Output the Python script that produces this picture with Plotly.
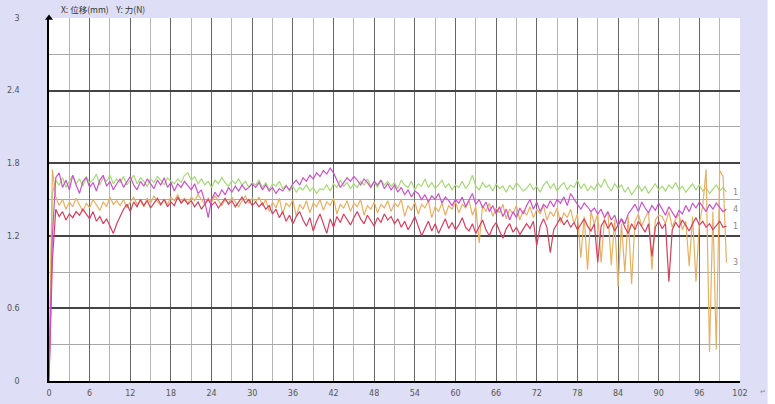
import plotly.graph_objects as go

# Displacement samples (mm)
x_start = 0.0
x_step = 0.5
n_pts = 201
displacement = [x_start + i * x_step for i in range(n_pts)]

# Force curves (N)
curve1_green = [
    0.05, 1.55, 1.66, 1.62, 1.68, 1.60, 1.65, 1.70, 1.63, 1.67, 1.61, 1.69, 1.64, 1.66, 1.71, 1.62, 1.68, 1.65, 1.70, 1.63, 1.67,
    1.64, 1.69, 1.62, 1.66, 1.70, 1.63, 1.68, 1.65, 1.61, 1.67, 1.64, 1.69, 1.66, 1.62, 1.68, 1.65, 1.63, 1.67, 1.64, 1.70,
    1.72, 1.66, 1.69, 1.63, 1.67, 1.62, 1.65, 1.60, 1.66, 1.63, 1.68, 1.64, 1.61, 1.66, 1.63, 1.67, 1.62, 1.65, 1.60, 1.64,
    1.62, 1.66, 1.60, 1.64, 1.58, 1.63, 1.61, 1.65, 1.59, 1.62, 1.57, 1.61, 1.56, 1.60, 1.58, 1.62, 1.57, 1.60, 1.55, 1.59,
    1.58, 1.62, 1.57, 1.63, 1.60, 1.66, 1.61, 1.64, 1.59, 1.63, 1.60, 1.65, 1.62, 1.67, 1.61, 1.64, 1.60, 1.66, 1.62, 1.65,
    1.61, 1.64, 1.59, 1.66, 1.62, 1.60, 1.65, 1.58, 1.63, 1.61, 1.67, 1.60, 1.64, 1.59, 1.62, 1.66, 1.60, 1.63, 1.58, 1.62,
    1.60, 1.65, 1.59, 1.63, 1.70, 1.61, 1.58, 1.64, 1.60, 1.62, 1.57, 1.63, 1.59, 1.61, 1.56, 1.62, 1.58, 1.64, 1.60, 1.57,
    1.59, 1.63, 1.58, 1.61, 1.56, 1.62, 1.65, 1.59, 1.63, 1.57, 1.61, 1.64, 1.58, 1.62, 1.60, 1.66, 1.59, 1.63, 1.57, 1.61,
    1.58, 1.64, 1.60, 1.67, 1.61, 1.57, 1.63, 1.59, 1.62, 1.56, 1.60, 1.54, 1.58, 1.62, 1.57, 1.61, 1.55, 1.59, 1.63, 1.58,
    1.61, 1.57, 1.62, 1.59, 1.64, 1.58, 1.61, 1.56, 1.60, 1.63, 1.58, 1.62, 1.57, 1.60, 1.55, 1.59, 1.62, 1.57, 1.60, 1.56,
]
curve4_magenta = [
    0.02, 1.20, 1.68, 1.72, 1.60, 1.66, 1.58, 1.70, 1.62, 1.55, 1.65, 1.68, 1.60, 1.64, 1.57, 1.66, 1.70, 1.61, 1.65, 1.58, 1.63,
    1.67, 1.60, 1.64, 1.69, 1.62, 1.58, 1.65, 1.61, 1.67, 1.63, 1.59, 1.66, 1.62, 1.68, 1.60, 1.64, 1.57, 1.63, 1.60, 1.65,
    1.61, 1.58, 1.63, 1.55, 1.58, 1.48, 1.35, 1.50, 1.56, 1.52, 1.58, 1.54, 1.60, 1.56, 1.61, 1.57, 1.62, 1.58, 1.60, 1.63,
    1.60, 1.64, 1.58, 1.62, 1.57, 1.60, 1.55, 1.59, 1.57, 1.61, 1.58, 1.63, 1.66, 1.62, 1.68, 1.65, 1.70, 1.67, 1.72, 1.69,
    1.74, 1.71, 1.76, 1.72, 1.66, 1.60, 1.64, 1.68, 1.65, 1.69, 1.66, 1.62, 1.67, 1.64, 1.60, 1.65, 1.62, 1.66, 1.59, 1.63,
    1.58, 1.62, 1.56, 1.60, 1.54, 1.58, 1.52, 1.57, 1.55, 1.50, 1.54, 1.48, 1.53, 1.50, 1.55, 1.47, 1.52, 1.49, 1.45, 1.50,
    1.47, 1.52, 1.44, 1.49, 1.55, 1.46, 1.50, 1.43, 1.48, 1.40, 1.45, 1.38, 1.44, 1.36, 1.42, 1.33, 1.40, 1.35, 1.43, 1.38,
    1.45, 1.50, 1.42, 1.48, 1.40, 1.46, 1.43, 1.49, 1.44, 1.50, 1.47, 1.52, 1.45, 1.55, 1.50, 1.46, 1.42, 1.47, 1.44, 1.40,
    1.43, 1.38, 1.42, 1.35, 1.40, 1.33, 1.37, 1.28, 1.34, 1.30, 1.38, 1.42, 1.46, 1.40, 1.48, 1.43, 1.39, 1.45, 1.41, 1.47,
    1.42, 1.37, 1.44, 1.39, 1.35, 1.41, 1.38, 1.45, 1.40, 1.47, 1.43, 1.48, 1.44, 1.40, 1.46, 1.42, 1.47, 1.43, 1.40, 1.42,
]
curve1_red = [
    0.00, 1.00, 1.42, 1.36, 1.40, 1.33, 1.38, 1.35, 1.40, 1.37, 1.42, 1.38, 1.34, 1.40, 1.32, 1.36, 1.30, 1.34, 1.28, 1.22, 1.30,
    1.36, 1.42, 1.46, 1.40, 1.48, 1.44, 1.50, 1.45, 1.49, 1.43, 1.47, 1.51, 1.46, 1.50, 1.44, 1.48, 1.45, 1.52, 1.47, 1.50,
    1.46, 1.49, 1.44, 1.48, 1.42, 1.46, 1.50, 1.45, 1.48, 1.43, 1.47, 1.51, 1.46, 1.49, 1.44, 1.48, 1.52, 1.47, 1.50, 1.45,
    1.48, 1.44, 1.47, 1.42, 1.45, 1.38, 1.42, 1.35, 1.40, 1.32, 1.37, 1.30, 1.36, 1.40, 1.33, 1.28, 1.35, 1.24, 1.32, 1.38,
    1.30, 1.22, 1.34, 1.27, 1.36, 1.31, 1.38, 1.33, 1.29, 1.35, 1.40, 1.34, 1.30, 1.37, 1.32, 1.28, 1.35, 1.31, 1.38, 1.33,
    1.36, 1.30, 1.34, 1.27, 1.32, 1.25, 1.30, 1.36, 1.28, 1.20, 1.26, 1.32, 1.24, 1.30, 1.22, 1.28, 1.34, 1.26, 1.31, 1.25,
    1.29, 1.35, 1.27, 1.24, 1.30, 1.22, 1.28, 1.33, 1.25, 1.20, 1.27, 1.31, 1.24, 1.18, 1.26, 1.30, 1.23, 1.27, 1.21, 1.25,
    1.30, 1.26, 1.32, 1.12, 1.28, 1.34, 1.27, 1.06, 1.25, 1.30, 1.35, 1.29, 1.33, 1.27, 1.31, 1.25, 1.29, 1.34, 1.28, 1.24,
    1.30, 0.98, 1.28, 1.33, 1.26, 1.31, 1.24, 1.29, 1.34, 1.27, 1.22, 1.30, 1.25, 1.32, 1.28, 1.23, 1.30, 1.03, 1.27, 1.32,
    1.26, 1.30, 0.82, 1.25, 1.31, 1.27, 1.33, 1.28, 1.24, 1.30, 1.35, 1.29, 1.32, 1.27, 1.30, 1.25, 1.29, 1.32, 1.27, 1.28,
]
curve3_orange = [
    0.05, 1.75, 1.52, 1.45, 1.50, 1.42, 1.48, 1.44, 1.51, 1.46, 1.40, 1.47, 1.43, 1.50, 1.45, 1.41, 1.48, 1.44, 1.52, 1.46, 1.49,
    1.45, 1.50, 1.43, 1.48, 1.52, 1.46, 1.49, 1.44, 1.51, 1.47, 1.53, 1.48, 1.45, 1.50, 1.46, 1.52, 1.49, 1.54, 1.48, 1.51,
    1.47, 1.52, 1.49, 1.54, 1.50, 1.46, 1.51, 1.48, 1.53, 1.49, 1.45, 1.50, 1.47, 1.52, 1.48, 1.44, 1.49, 1.53, 1.47, 1.51,
    1.48, 1.52, 1.45, 1.50, 1.40, 1.48, 1.43, 1.51, 1.38, 1.47, 1.44, 1.50, 1.36, 1.46, 1.42, 1.49, 1.39, 1.47, 1.44, 1.50,
    1.41, 1.48, 1.45, 1.51, 1.38, 1.46, 1.43, 1.49, 1.40, 1.47, 1.44, 1.50, 1.37, 1.45, 1.42, 1.48, 1.39, 1.46, 1.43, 1.49,
    1.40, 1.47, 1.44, 1.50, 1.36, 1.45, 1.41, 1.48, 1.38, 1.46, 1.43, 1.49, 1.35, 1.44, 1.40, 1.47, 1.37, 1.45, 1.42, 1.48,
    1.39, 1.46, 1.43, 1.49, 1.37, 1.44, 1.14, 1.45, 1.40, 1.47, 1.36, 1.43, 1.39, 1.46, 1.34, 1.42, 1.38, 1.45, 1.33, 1.41,
    1.37, 1.44, 1.35, 1.42, 1.38, 1.45, 1.33, 1.40, 1.36, 1.43, 1.31, 1.39, 1.35, 1.42, 1.30, 1.38, 1.02, 1.36, 0.92, 1.40,
    1.30, 1.38, 0.98, 1.35, 1.40, 0.96, 1.33, 0.78, 1.30, 0.90, 1.36, 0.80, 1.32, 1.38, 1.28, 1.35, 1.40, 0.92, 1.33, 1.37,
    1.36, 1.30, 1.40, 1.27, 1.34, 1.38, 1.25, 1.32, 0.95, 1.36, 0.82, 1.30, 1.45, 1.75, 0.24, 1.40, 0.26, 1.74, 1.69, 0.98,
]

series = [
    ("1", curve1_green, "#a6d878"),
    ("3", curve3_orange, "#e6b064"),
    ("1", curve1_red, "#d2405e"),
    ("4", curve4_magenta, "#c852c8"),
]

x_ticks = [0, 6, 12, 18, 24, 30, 36, 42, 48, 54, 60, 66, 72, 78, 84, 90, 96, 102]
y_ticks = [0, 0.6, 1.2, 1.8, 2.4, 3]
y_tick_text = ["0", "0.6", "1.2", "1.8", "2.4", "3"]

fig = go.Figure()
for name, vals, col in series:
    fig.add_trace(go.Scatter(x=displacement, y=vals, mode="lines",
                             line=dict(color=col, width=1.2), name=name,
                             showlegend=False, hoverinfo="skip"))
    # end label
    fig.add_annotation(x=displacement[-1] + 1.3, y=vals[-1], text=name,
                       showarrow=False, font=dict(size=8, color="#888888"),
                       xanchor="center")

# axis arrows
fig.add_trace(go.Scatter(x=[0], y=[3], mode="markers",
                         marker=dict(symbol="triangle-up", size=7, color="black"),
                         cliponaxis=False, showlegend=False, hoverinfo="skip"))
fig.add_trace(go.Scatter(x=[102.3], y=[0], mode="markers",
                         marker=dict(symbol="triangle-right", size=7, color="black"),
                         cliponaxis=False, showlegend=False, hoverinfo="skip"))

fig.add_shape(type="rect", xref="paper", yref="paper", x0=1.04, x1=1.06,
              y0=-0.2, y1=1.2, fillcolor="white", line=dict(width=0), layer="above")

fig.add_annotation(xref="paper", yref="paper", x=0.015, y=1.0, yshift=1,
                   text="X: 位移(mm)    Y: 力(N)", showarrow=False,
                   xanchor="left", yanchor="bottom",
                   font=dict(size=8.5, color="#333333", family="Noto Sans CJK SC"))
fig.add_annotation(xref="paper", yref="paper", x=1.033, y=0, yshift=-17,
                   text="↵", showarrow=False, xanchor="center", yanchor="bottom",
                   font=dict(size=7, color="#888888"))

fig.update_layout(
    width=775, height=404, autosize=False,
    margin=dict(l=49, r=35, t=18, b=23, autoexpand=False),
    paper_bgcolor="#dedef6", plot_bgcolor="white",
    font=dict(family="DejaVu Sans", size=8, color="#555555"),
    xaxis=dict(range=[0, 102], tickvals=x_ticks, ticks="", showline=True,
               linecolor="black", linewidth=1.5, gridcolor="#666666", gridwidth=1.3,
               zeroline=False, ticklabelstandoff=4, automargin=False,
               tickfont=dict(size=8, color="#555555"),
               minor=dict(dtick=3, showgrid=True, gridcolor="#b4b4b4", gridwidth=1)),
    yaxis=dict(range=[0, 3], tickvals=y_ticks, ticktext=y_tick_text, ticks="",
               showline=True, linecolor="black", linewidth=1.5,
               gridcolor="#444444", gridwidth=1.6, zeroline=False, automargin=False,
               ticklabelstandoff=26, tickfont=dict(size=8, color="#555555"),
               minor=dict(dtick=0.3, showgrid=True, gridcolor="#a8a8a8", gridwidth=1)),
)

fig.write_html("out.html", config={"displayModeBar": False},
               post_script="document.body.style.margin='0';document.body.style.overflow='hidden';")
